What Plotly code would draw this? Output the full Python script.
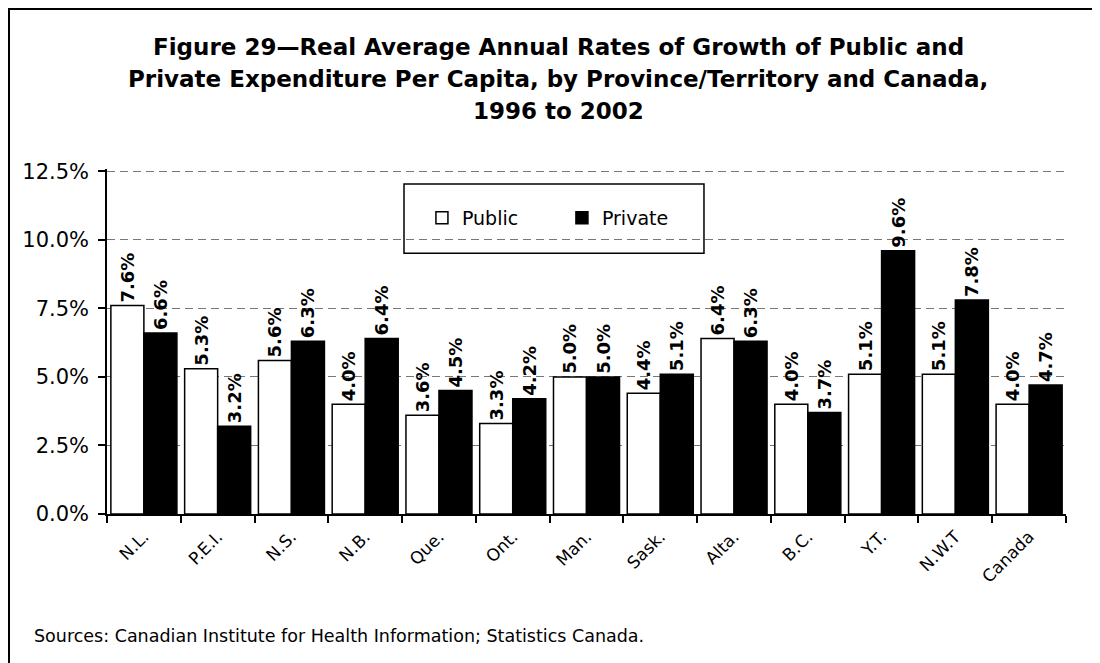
import plotly.graph_objects as go

# provinces / territories as shown on the x axis
regions = ["N.L.", "P.E.I.", "N.S.", "N.B.", "Que.", "Ont.", "Man.",
           "Sask.", "Alta.", "B.C.", "Y.T.", "N.W.T", "Canada"]

# average annual real growth, per cent
public = [7.6, 5.3, 5.6, 4.0, 3.6, 3.3, 5.0, 4.4, 6.4, 4.0, 5.1, 5.1, 4.0]
private = [6.6, 3.2, 6.3, 6.4, 4.5, 4.2, 5.0, 5.1, 6.3, 3.7, 9.6, 7.8, 4.7]

title_lines = [
    "Figure 29\u2014Real Average Annual Rates of Growth of Public and",
    "Private Expenditure Per Capita, by Province/Territory and Canada,",
    "1996 to 2002",
]
source_note = "Sources: Canadian Institute for Health Information; Statistics Canada."

label_font = dict(family="DejaVu Sans", size=18, color="black", weight="bold")

fig = go.Figure()
fig.add_trace(go.Bar(
    x=regions, y=public, name="Public",
    marker=dict(color="white", line=dict(color="black", width=1.5)),
    text=[f"{v:.1f}%" for v in public], textposition="outside",
    textangle=-90, textfont=label_font, constraintext="none", cliponaxis=False,
))
fig.add_trace(go.Bar(
    x=regions, y=private, name="Private",
    marker=dict(color="black", line=dict(color="black", width=1.5)),
    text=[f"{v:.1f}%" for v in private], textposition="outside",
    textangle=-90, textfont=label_font, constraintext="none", cliponaxis=False,
))

# title, three centred lines
for i, line in enumerate(title_lines):
    fig.add_annotation(text=f"<b>{line}</b>", xref="paper", yref="paper",
                       x=0.4703, y=1.3536 - i * 0.0928, xanchor="center", yanchor="middle",
                       showarrow=False,
                       font=dict(family="DejaVu Sans", size=23, color="black"))

fig.add_annotation(text=source_note, xref="paper", yref="paper",
                   x=-0.0782, y=-0.3536, xanchor="left", yanchor="middle",
                   showarrow=False,
                   font=dict(family="DejaVu Sans", size=17.5, color="black"))

# outer frame: only the top and left edges fall inside the page
frame = dict(color="black", width=4)
fig.add_shape(type="line", xref="paper", yref="paper",
              x0=-0.10323, x1=1.05, y0=1.4667, y1=1.4667, line=frame, layer="above")
fig.add_shape(type="line", xref="paper", yref="paper",
              x0=-0.10323, x1=-0.10323, y0=-0.46, y1=1.4667, line=frame, layer="above")
# legend box
fig.add_shape(type="rect", xref="paper", yref="y",
              x0=0.3097, x1=0.6225, y0=9.51, y1=12.03,
              fillcolor="white", line=dict(color="black", width=1.5), layer="between")

fig.update_layout(
    width=1100, height=663,
    margin=dict(l=99, r=42, t=161, b=157),
    paper_bgcolor="white", plot_bgcolor="white",
    barmode="group", bargap=0.105, bargroupgap=0,
    font=dict(family="DejaVu Sans", color="black"),
    legend=dict(orientation="h", x=0.3284, y=0.858, xanchor="left", yanchor="middle",
                font=dict(family="DejaVu Sans", size=19, color="black"),
                bgcolor="rgba(0,0,0,0)", entrywidth=95),
    showlegend=True,
)
fig.update_xaxes(showline=True, linecolor="black", linewidth=2,
                 ticks="outside", tickson="boundaries", ticklen=7, tickcolor="black", tickwidth=1.5,
                 ticklabelstandoff=4,
                 tickangle=-45, tickfont=dict(family="DejaVu Sans", size=17, color="black"),
                 showgrid=False)
fig.update_yaxes(range=[0, 12.58], tick0=0, dtick=2.5,
                 tickformat=".1f", ticksuffix="%",
                 showline=True, linecolor="black", linewidth=1.5,
                 ticks="outside", ticklen=7, tickcolor="black", tickwidth=1.5,
                 ticklabelstandoff=5,
                 tickfont=dict(family="DejaVu Sans", size=21, color="black"),
                 showgrid=True, gridcolor="#777777", gridwidth=1, griddash="8px,5px",
                 zeroline=False)

fig.write_html("out.html")
